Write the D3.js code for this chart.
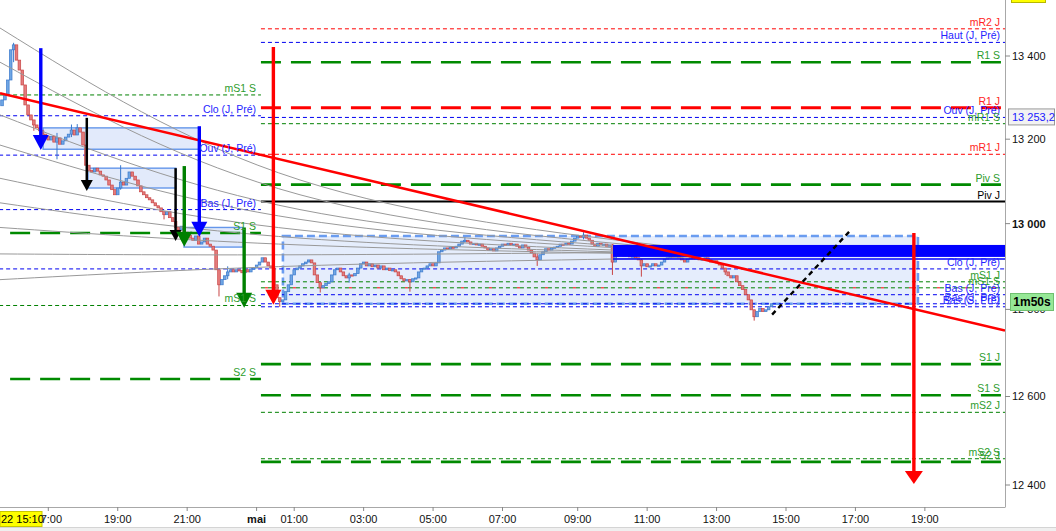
<!DOCTYPE html>
<html><head><meta charset="utf-8">
<script src="https://cdn.jsdelivr.net/npm/d3@7"></script>
<style>body{margin:0;background:#fff;}svg{display:block;font-family:"Liberation Sans",Arial,sans-serif;}</style>
</head><body><svg id="c" width="1056" height="531"></svg>
<script>
// ---------- DATA ----------
const firstOpen = 13280;
const closes = [
13294,13306,13342,13415,13427,13390,13366,13330,13282,13258,
13246,13234,13227,13220,13212,13207,13198,13207,13193,13203,
13188,13196,13205,13212,13222,13210,13227,13217,13186,13138,
13126,13122,13131,13124,13115,13112,13103,13091,13080,13068,
13084,13098,13091,13107,13122,13112,13103,13089,13075,13068,
13061,13056,13049,13042,13037,13028,13021,13028,13014,13005,
12991,12985,12994,12980,12973,12966,12961,12971,12952,12957,
12966,12952,12947,12938,12892,12857,12869,12878,12887,12892,
12887,12892,12890,12885,12892,12887,12894,12896,12903,12910,
12920,12910,12901,12896,12857,12827,12818,12822,12841,12857,
12880,12892,12896,12901,12906,12910,12915,12908,12880,12862,
12850,12855,12860,12864,12880,12892,12896,12887,12878,12873,
12880,12878,12883,12896,12906,12910,12901,12906,12899,12903,
12896,12901,12892,12896,12890,12892,12887,12878,12871,12866,
12869,12864,12871,12873,12887,12894,12896,12901,12906,12901,
12908,12934,12938,12943,12941,12945,12943,12947,12952,12959,
12961,12957,12952,12954,12950,12952,12947,12943,12938,12941,
12936,12943,12947,12952,12950,12954,12950,12952,12947,12943,
12950,12945,12938,12931,12922,12915,12927,12934,12941,12938,
12943,12945,12947,12952,12950,12954,12952,12959,12966,12971,
12968,12973,12966,12961,12952,12947,12954,12950,12952,12947,
12950,12910,12924,12927,12929,12924,12927,12922,12924,12920,
12915,12901,12906,12899,12901,12906,12901,12903,12910,12917,
12920,12924,12922,12924,12920,12915,12910,12917,12920,12917,
12920,12915,12917,12920,12915,12910,12913,12908,12903,12896,
12887,12878,12873,12878,12864,12855,12846,12834,12822,12799,
12783,12795,12802,12795,12799,12806,12813];
// [bar, high, low]
const wicks = [[4,13432,13385],[11,13240,13220],[19,13215,13152],[24,13235,13205],[26,13236,13215],
[41,13138,13080],[56,13025,13010],[75,12880,12830],[78,12900,12870],[96,12825,12806],[110,12860,12839],
[120,12885,12862],[141,12870,12841],[160,12968,12955],[185,12930,12901],[201,12980,12963],
[211,12952,12880],[221,12917,12876],[250,12896,12880],[260,12799,12774]];

const priceTicks = [13400,13200,13000,12800,12600,12400];
const priceTickLabels = ["13 400","13 200","13 000","12 800","12 600","12 400"];
const timeTickBars = [16,40,64,88,101,125,149,173,199,223,247,271,295,319];
const timeTickLabels = ["17:00","19:00","21:00","mai","01:00","03:00","05:00","07:00","09:00","11:00","13:00","15:00","17:00","19:00"];

const leftNames  = ["mS1 S","Clo (J, Pré)","Ouv (J, Pré)","Bas (J, Pré)","S1 S","mS1 S","S2 S"];
const leftPrices = [13306,13256,13162,13033,12978,12809,12640];
const leftKinds  = ["gDash","bDash","bDash","bDash","gLong","gDash","gLong"];

const rightNames  = ["mR2 J","Haut (J, Pré)","R1 S","R1 J","Ouv (J, Pré)","mR1 S","mR1 J","Piv S","Piv J","Clo (J, Pré)","mS1 J","mS1 S","Bas (J, Pré)","Bas (J, Pré)","Bas (S, Pré)","S1 J","S1 S","mS2 J","mS2 S","S2 J"];
const rightPrices = [13466,13433,13385,13275,13252,13237,13164,13092,13052,12894,12864,12850,12834,12813,12806,12674,12603,12564,12459,12452];
const rightKinds  = ["rDash","bDash","gLong","rLong","bDash","gDash","rDash","gLong","kSolid","bDash","gDash","gDash","bDash","bDash","bDash","gLong","gLong","gDash","gDash","gLong"];
const fullSpanPrice = 12894;

// fan lines: [bar, price] points
const fanLines = [
 [[-0.7,13468],[103,13103],[237.8,12941]],
 [[-0.7,13385],[103,13068],[237.8,12938]],
 [[-0.7,13258],[103,13033],[237.8,12936]],
 [[-0.7,13186],[103,13010],[237.8,12934]],
 [[-0.7,13107],[103,12985],[237.8,12931]],
 [[-0.7,13049],[103,12966],[237.8,12929]],
 [[-0.7,12991],[103,12950],[237.8,12927]],
 [[-0.7,12929],[103,12927],[237.8,12934]],
 [[-0.7,12869],[103,12901],[237.8,12920]]
];

const boxStart=[14.2,29.7,62.9], boxEnd=[68.1,60.1,83.3], boxTop=[13227,13131,12991], boxBottom=[13176,13084,12945];
const bigBox = {start:97.1, end:316.6, top:12971, bottom:12813};
const bandStart = 211.2, bandTop = 12950, bandBottom = 12922, bandLinePrice = 12917;

const arrowBar  = [13.4,29.3,60,63,68.2,83.7,93.8,315.2];
const arrowFrom = [13419,13251,13131,13136,13231,12991,13422,12978];
const arrowTo   = [13174,13077,12959,12946,12969,12804,12811,12402];
const arrowKind = ["blue","black","black","green","blue","green","red","red"];

const trendBars = [-0.7,346.7], trendPrices = [13310,12751];
const projBars = [266.2,293.1], projPrices = [12788,12983];
const lastPrice = 13253.2, lastPriceLabel = "13 253,2";
const timerLabel = "1m50s", cursorLabel = "22 15:10";

// ---------- LAYOUT / STYLE ----------
const W=1056,H=531,plotR=1005,plotB=507, split=89.5;
const x = d3.scaleLinear().domain([-0.7,346.7]).range([0,plotR]);
const y = d3.scaleLog().domain([13400,12400]).range([56,485]);
const lineStyle = {
  gDash:{c:"#008000",w:1,d:"4,3"}, gLong:{c:"#008a00",w:2.6,d:"20,10"},
  bDash:{c:"#0000f0",w:1,d:"4,3"}, rDash:{c:"#ff0000",w:1,d:"4,3"},
  rLong:{c:"#ff0000",w:3,d:"20,10"}, kSolid:{c:"#000",w:2,d:null}
};
const labelColor = {g:"#2c9c2c",b:"#2424ff",r:"#ff2424",k:"#000"};
const arrowColor = {blue:"#0000ff",black:"#000",green:"#008000",red:"#ff0000"};

const svg = d3.select("#c");
svg.append("rect").attr("width",W).attr("height",H).attr("fill","#fff");
svg.append("defs").append("clipPath").attr("id","clip").append("rect").attr("width",plotR).attr("height",plotB);
const g = svg.append("g").attr("clip-path","url(#clip)");

// boxes
g.selectAll(".box").data(boxStart).join("rect")
 .attr("x",(d,i)=>x(d)).attr("width",(d,i)=>x(boxEnd[i])-x(d))
 .attr("y",(d,i)=>y(boxTop[i])).attr("height",(d,i)=>y(boxBottom[i])-y(boxTop[i]))
 .attr("fill","#e2eafb").attr("stroke","#6496ea").attr("stroke-width",1.4);
g.append("rect").attr("x",x(bigBox.start)).attr("width",x(bigBox.end)-x(bigBox.start))
 .attr("y",y(bigBox.top)).attr("height",y(bigBox.bottom)-y(bigBox.top))
 .attr("fill","#e5edfc").attr("stroke","#6a9cf0").attr("stroke-width",2.6).attr("stroke-dasharray","8,4");

// levels
function drawLevel(i0,i1,price,kind){
  const s=lineStyle[kind];
  const l=g.append("line").attr("x1",x(i0)).attr("x2",x(i1)).attr("y1",y(price)).attr("y2",y(price))
   .attr("stroke",s.c).attr("stroke-width",s.w);
  if(s.d) l.attr("stroke-dasharray",s.d);
}
leftNames.forEach((n,i)=>drawLevel(leftKinds[i]==="gLong"?2.8:-1,split,leftPrices[i],leftKinds[i]));
rightNames.forEach((n,i)=>drawLevel(rightPrices[i]===fullSpanPrice?-1:split,346.7,rightPrices[i],rightKinds[i]));
// red overlay on mS1 S (right)
g.append("line").attr("x1",x(split)).attr("x2",x(346.7)).attr("y1",y(12850)).attr("y2",y(12850))
 .attr("stroke","#ff0000").attr("stroke-width",1).attr("stroke-dasharray","3,25").attr("stroke-dashoffset",-4);

// candles
const cg = g.append("g");
const wickMap = new Map(wicks.map(w=>[w[0],w]));
closes.forEach((c,i)=>{
  const o = i? closes[i-1] : firstOpen;
  const up = c>=o;
  const fill = up?"#6fa6e4":"#e47c7c", st = up?"#3a78cc":"#c84444";
  const w = wickMap.get(i);
  if(w){
    cg.append("line").attr("x1",x(i)).attr("x2",x(i)).attr("y1",y(Math.max(w[1],o,c))).attr("y2",y(Math.min(w[2],o,c)))
      .attr("stroke",st).attr("stroke-width",1);
  }
  const top=y(Math.max(o,c)), bot=y(Math.min(o,c));
  cg.append("rect").attr("x",x(i)-1.3).attr("width",2.6).attr("y",top).attr("height",Math.max(1.2,bot-top))
    .attr("fill",fill).attr("stroke",st).attr("stroke-width",0.7);
});

// fan lines
const fanGen = d3.line().x(d=>x(d[0])).y(d=>y(d[1])).curve(d3.curveNatural);
g.selectAll(".fan").data(fanLines).join("path").attr("d",fanGen)
 .attr("fill","none").attr("stroke","#999").attr("stroke-width",1);

// blue band
g.append("rect").attr("x",x(bandStart)).attr("width",plotR-x(bandStart))
 .attr("y",y(bandTop)).attr("height",y(bandBottom)-y(bandTop)).attr("fill","#0000ff");
g.append("line").attr("x1",x(bandStart)).attr("x2",plotR).attr("y1",y(bandLinePrice)).attr("y2",y(bandLinePrice))
 .attr("stroke","#0000ff").attr("stroke-width",1.5);

// trend line
g.append("line").attr("x1",x(trendBars[0])).attr("x2",x(trendBars[1])).attr("y1",y(trendPrices[0])).attr("y2",y(trendPrices[1]))
 .attr("stroke","#ff0000").attr("stroke-width",2.6);
g.append("line").attr("x1",x(projBars[0])).attr("x2",x(projBars[1])).attr("y1",y(projPrices[0])).attr("y2",y(projPrices[1]))
 .attr("stroke","#000").attr("stroke-width",2.4).attr("stroke-dasharray","5,4");

// arrows
arrowBar.forEach((b,i)=>{
  const k=arrowKind[i], col=arrowColor[k];
  const hw = k==="black"?6:(i===7?9:8), hh = k==="black"?11:(i===7?13:15);
  const cx=x(b), yt=y(arrowFrom[i]), yb=y(arrowTo[i]);
  g.append("line").attr("x1",cx).attr("x2",cx).attr("y1",yt).attr("y2",yb-hh+1)
   .attr("stroke",col).attr("stroke-width",k==="black"?2.5:3.4);
  g.append("path").attr("d",`M${cx-hw},${yb-hh}L${cx+hw},${yb-hh}L${cx},${yb}Z`).attr("fill",col);
});

// level labels
function lbl(xr,price,name,kind){
  const c = labelColor[kind[0]];
  g.append("text").attr("x",xr).attr("y",y(price)-3).attr("text-anchor","end")
   .attr("font-size","10.5px").attr("fill",c).text(name);
}
leftNames.forEach((n,i)=>lbl(256,leftPrices[i],n,leftKinds[i]));
rightNames.forEach((n,i)=>lbl(1000,rightPrices[i],n,rightKinds[i]));

// axes
svg.append("line").attr("x1",plotR+0.5).attr("x2",plotR+0.5).attr("y1",0).attr("y2",plotB).attr("stroke","#a8a8a8");
svg.append("line").attr("x1",0).attr("x2",plotR+0.5).attr("y1",plotB+0.5).attr("y2",plotB+0.5).attr("stroke","#a8a8a8");
priceTicks.forEach((p,i)=>{
  svg.append("line").attr("x1",plotR).attr("x2",plotR+5).attr("y1",y(p)).attr("y2",y(p)).attr("stroke","#888");
  svg.append("text").attr("x",1012).attr("y",y(p)+4).attr("font-size","11px").attr("fill","#111")
    .attr("font-weight",p===13000?"bold":"normal").text(priceTickLabels[i]);
});
timeTickBars.forEach((b,i)=>{
  svg.append("line").attr("x1",x(b)).attr("x2",x(b)).attr("y1",plotB).attr("y2",plotB+4).attr("stroke","#888");
  svg.append("text").attr("x",x(b)).attr("y",523).attr("text-anchor","middle").attr("font-size","11px").attr("fill","#111")
    .attr("font-weight",timeTickLabels[i]==="mai"?"bold":"normal").text(timeTickLabels[i]);
});
// bottom strip
svg.append("rect").attr("x",0).attr("y",527).attr("width",W).attr("height",4).attr("fill","#efefef");
svg.append("line").attr("x1",0).attr("x2",W).attr("y1",527.5).attr("y2",527.5).attr("stroke","#d4d4d4");

// info boxes
svg.append("rect").attr("x",0).attr("y",511.5).attr("width",42).attr("height",15).attr("fill","#ffff00").attr("stroke","#c8c800");
svg.append("text").attr("x",1).attr("y",523).attr("font-size","11px").attr("fill","#000").text(cursorLabel);
svg.append("rect").attr("x",1011.5).attr("y",-8).attr("width",34).attr("height",10.5).attr("fill","#ffff00").attr("stroke","#b8b800");
const ly=y(lastPrice);
svg.append("rect").attr("x",1008.5).attr("y",ly-8).attr("width",46).attr("height",16).attr("fill","#f2f2f2").attr("stroke","#999");
svg.append("text").attr("x",1012).attr("y",ly+4).attr("font-size","11px").attr("fill","#2020ff").text(lastPriceLabel);
svg.append("rect").attr("x",1010.5).attr("y",293.5).attr("width",43).attr("height",17).attr("fill","#96e896").attr("stroke","#70c070");
svg.append("text").attr("x",1032).attr("y",306).attr("text-anchor","middle").attr("font-size","12px").attr("font-weight","bold").attr("fill","#000").text(timerLabel);
</script></body></html>
